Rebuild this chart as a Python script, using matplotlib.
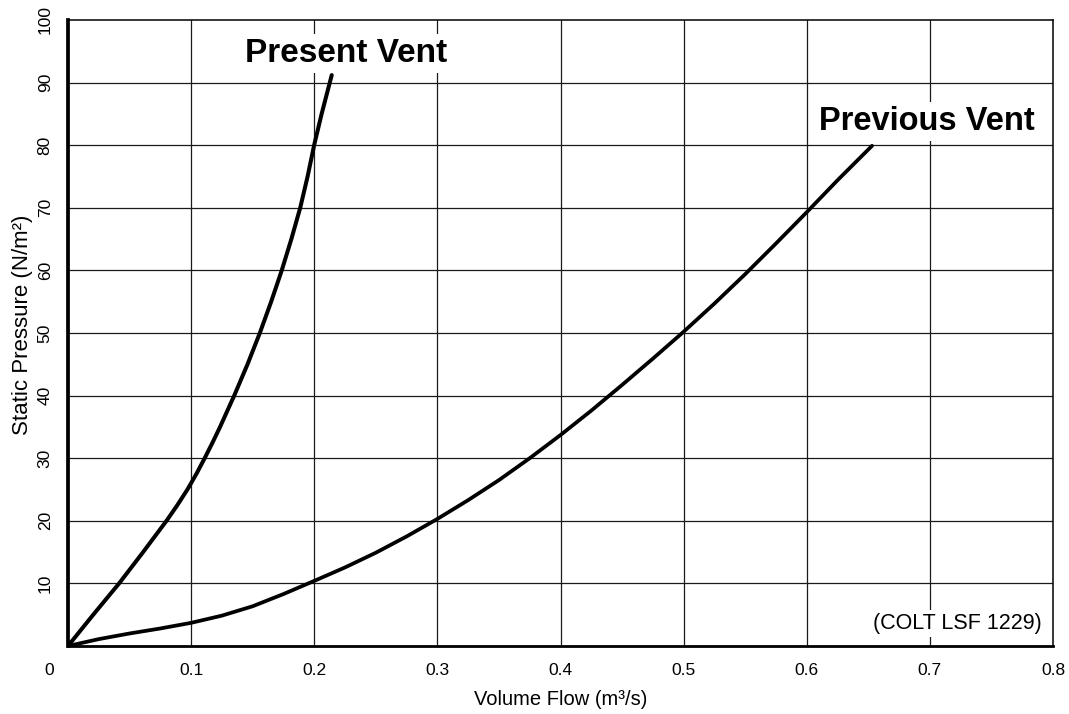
import matplotlib
matplotlib.use("Agg")
import matplotlib.pyplot as plt
from matplotlib.transforms import ScaledTranslation

# ---- data ----
present_pressure = [0, 5, 10, 15, 20, 22.5, 25, 27.5, 30, 32.5, 35, 40, 45, 50, 55,
                    60, 65, 70, 75, 80, 85, 91.2]
present_flow = [0.0, 0.0205, 0.0415, 0.0610, 0.0800, 0.0888, 0.0970, 0.1043, 0.1110,
                0.1174, 0.1235, 0.1350, 0.1458, 0.1558, 0.1650, 0.1736, 0.1814,
                0.1886, 0.1946, 0.1999, 0.2060, 0.2142]

previous_flow = [0.0, 0.025, 0.05, 0.075, 0.1, 0.125, 0.15, 0.175, 0.2, 0.225, 0.25,
                 0.275, 0.3, 0.325, 0.35, 0.375, 0.4, 0.425, 0.45, 0.475, 0.5, 0.525,
                 0.55, 0.575, 0.6, 0.625, 0.653]
previous_pressure = [0.0, 1.1, 2.0, 2.8, 3.7, 4.85, 6.35, 8.3, 10.4, 12.55, 14.9,
                     17.5, 20.3, 23.3, 26.5, 30.0, 33.7, 37.6, 41.7, 45.9, 50.2, 54.7,
                     59.4, 64.3, 69.3, 74.4, 79.9]

x_ticks = [0.0, 0.1, 0.2, 0.3, 0.4, 0.5, 0.6, 0.7, 0.8]
x_tick_labels = ["0", "0.1", "0.2", "0.3", "0.4", "0.5", "0.6", "0.7", "0.8"]
y_ticks = [10, 20, 30, 40, 50, 60, 70, 80, 90, 100]
y_tick_labels = ["10", "20", "30", "40", "50", "60", "70", "80", "90", "100"]

plt.rcParams['font.family'] = ['Liberation Sans', 'DejaVu Sans']

fig = plt.figure(figsize=(10.69, 7.14), dpi=100)
ax = fig.add_axes([68/1069, (714-646)/714, (1053-68)/1069, (646-20)/714])

ax.set_xlim(0, 0.8)
ax.set_ylim(0, 100)

# grid
for xv in x_ticks[1:-1]:
    ax.axvline(xv, color='#1a1a1a', lw=0.9, zorder=1)
for yv in y_ticks[:-1]:
    ax.axhline(yv, color='#1a1a1a', lw=0.9, zorder=1)

ax.plot(present_flow, present_pressure, color='black', lw=2.9,
        solid_capstyle='round', solid_joinstyle='round', zorder=3)
ax.plot(previous_flow, previous_pressure, color='black', lw=2.7,
        solid_capstyle='round', solid_joinstyle='round', zorder=3)

# spines
ax.spines['left'].set_linewidth(2.7)
ax.spines['bottom'].set_linewidth(2.0)
ax.spines['top'].set_linewidth(1.1)
ax.spines['right'].set_linewidth(1.1)
for s in ax.spines.values():
    s.set_color('black')
    s.set_zorder(4)

ax.set_xticks(x_ticks)
ax.set_xticklabels(x_tick_labels, fontsize=12.5)
ax.set_yticks(y_ticks)
ax.set_yticklabels(y_tick_labels, fontsize=12.5, rotation=90, va='center')
ax.tick_params(axis='both', length=0)
ax.tick_params(axis='x', pad=12)
ax.tick_params(axis='y', pad=11)
# the corner "0" sits left of the origin
first = ax.get_xticklabels()[0]
first.set_transform(first.get_transform() + ScaledTranslation(-19/100, 0, fig.dpi_scale_trans))

ax.set_xlabel("Volume Flow (m³/s)", fontsize=14.5, labelpad=9)
ax.set_ylabel("Static Pressure (N/m²)", fontsize=16)
ax.yaxis.set_label_coords(-0.036, 0.513)

box = dict(facecolor='white', edgecolor='none', pad=3)
ax.text(0.1438, 93.3, "Present Vent", fontsize=24, fontweight='bold',
        ha='left', va='baseline', bbox=box, zorder=5)
ax.text(0.610, 82.4, "Previous Vent", fontsize=23.5, fontweight='bold',
        ha='left', va='baseline', bbox=box, zorder=5)
ax.text(0.7912, 2.7, "(COLT LSF 1229)", fontsize=15.5, ha='right', va='baseline',
        bbox=dict(facecolor='white', edgecolor='none', pad=2), zorder=5)

fig.savefig("out.png", dpi=100)
